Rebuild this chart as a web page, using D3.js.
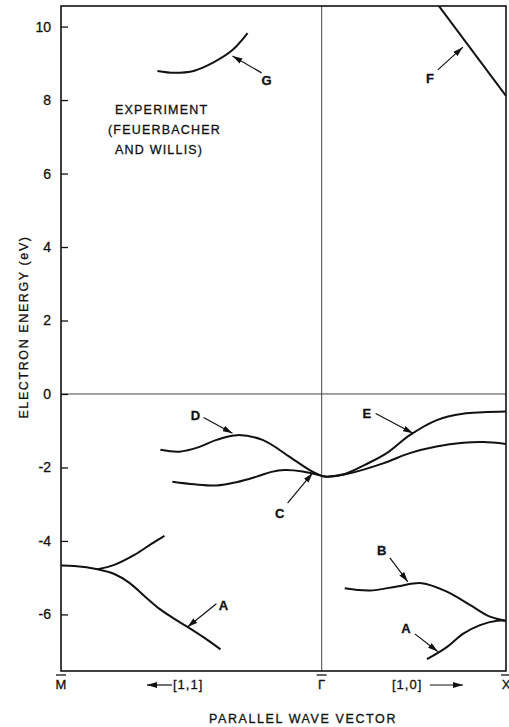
<!DOCTYPE html>
<html>
<head>
  <meta charset="utf-8">
  <title>Band structure</title>
  <style>
    body { margin: 0; background: #fff; }
    text { font-family: "Liberation Sans", Arial, sans-serif; fill: #111; stroke: #111; stroke-width: 0.3px; }
  </style>
</head>
<body>
  <div id="plot"></div>

  <script src="https://d3js.org/d3.v7.min.js"></script>
  <script>

    // k : parallel wave vector (Gamma = 0, X = 1, M = -sqrt2), E : electron energy (eV)
    let curveG      = [[-0.891, 8.79], [-0.799, 8.74], [-0.690, 8.80], [-0.592, 9.01], [-0.484, 9.36], [-0.402, 9.82]];
    let curveF      = [[0.630, 10.60], [1.000, 8.11]];
    let curveD      = [[-0.875, -1.52], [-0.772, -1.57], [-0.663, -1.44], [-0.571, -1.25], [-0.457, -1.12],
                       [-0.321, -1.25], [-0.174, -1.71], [-0.065, -2.07], [0.000, -2.23]];
    let curveC      = [[-0.810, -2.39], [-0.690, -2.46], [-0.571, -2.49], [-0.462, -2.40], [-0.353, -2.25],
                       [-0.272, -2.12], [-0.201, -2.07], [-0.103, -2.11], [0.000, -2.23]];
    let curveE      = [[0.000, -2.23], [0.033, -2.25], [0.125, -2.18], [0.234, -1.93], [0.353, -1.61],
                       [0.478, -1.12], [0.625, -0.71], [0.766, -0.54], [0.875, -0.50], [1.000, -0.48]];
    let curveE2     = [[0.000, -2.23], [0.033, -2.25], [0.152, -2.16], [0.333, -1.89], [0.478, -1.61],
                       [0.623, -1.43], [0.768, -1.33], [0.877, -1.31], [1.000, -1.36]];
    let curveA11    = [[-1.414, -4.67], [-1.342, -4.68], [-1.216, -4.77], [-1.125, -4.90], [-1.043, -5.14],
                       [-0.962, -5.50], [-0.880, -5.85], [-0.799, -6.12], [-0.728, -6.34], [-0.636, -6.64],
                       [-0.549, -6.95]];
    let curveUp11   = [[-1.216, -4.77], [-1.125, -4.65], [-1.016, -4.38], [-0.924, -4.08], [-0.853, -3.86]];
    let curveB      = [[0.125, -5.29], [0.261, -5.35], [0.408, -5.24], [0.543, -5.15], [0.679, -5.38],
                       [0.804, -5.74], [0.913, -6.06], [1.000, -6.17]];
    let curveA10    = [[0.571, -7.22], [0.679, -6.89], [0.766, -6.53], [0.859, -6.29], [0.951, -6.17], [1.000, -6.17]];

    let curves = [curveG, curveF, curveD, curveC, curveE, curveE2, curveA11, curveUp11, curveB, curveA10];

    // annotation arrows : label, label position, arrow start, arrow tip (k, E)
    let arrowLabels = ['G', 'F', 'D', 'E', 'C', 'B', 'A', 'A'];
    let arrowText   = [[-0.299, 8.54], [0.587, 8.60], [-0.685, -0.57], [0.245, -0.52],
                       [-0.228, -3.24], [0.326, -4.25], [0.457, -6.37], [-0.533, -5.74]];
    let arrowFrom   = [[-0.326, 8.74], [0.630, 8.82], [-0.641, -0.64], [0.293, -0.53],
                       [-0.185, -2.97], [0.370, -4.46], [0.505, -6.53], [-0.571, -5.71]];
    let arrowTo     = [[-0.484, 9.20], [0.766, 9.44], [-0.484, -1.07], [0.495, -1.07],
                       [-0.049, -2.15], [0.467, -5.11], [0.630, -7.01], [-0.728, -6.34]];

    let yTicks = [-6, -4, -2, 0, 2, 4, 6, 8, 10];
    let kPoints = [[-Math.SQRT2, 'M'], [0, 'Γ'], [1, 'X']];

    function translate(x, y) {
      return 'translate(' + x + ',' + y + ')';
    }

    let svgWidth = 509;
    let svgHeight = 727;
    let margin = {top: 6, right: 3, bottom: 56, left: 61};
    let width = svgWidth - margin.left - margin.right;
    let height = svgHeight - margin.top - margin.bottom;

    let svg = d3.select('#plot')
      .append('svg')
        .attr('width', svgWidth)
        .attr('height', svgHeight);

    let g = svg.append('g')
      .attr('transform', translate(margin.left, margin.top));

    let x = d3.scaleLinear().domain([-Math.SQRT2, 1]).range([0, width]);
    let y = d3.scaleLinear().domain([-7.54, 10.56]).range([height, 0]);

    //arrow head
    svg.append('defs')
      .append('marker')
        .attr('id', 'head')
        .attr('viewBox', '0 0 10 6')
        .attr('refX', 10)
        .attr('refY', 3)
        .attr('markerWidth', 10)
        .attr('markerHeight', 6)
        .attr('markerUnits', 'userSpaceOnUse')
        .attr('orient', 'auto')
      .append('path')
        .attr('d', 'M0,0 L10,3 L0,6 Z')
        .style('fill', '#111');

    svg.select('defs')
      .append('clipPath')
        .attr('id', 'clip')
      .append('rect')
        .attr('width', width)
        .attr('height', height);

    //zero line and Gamma line
    g.append('line')
      .attr('x1', 0).attr('x2', width)
      .attr('y1', y(0)).attr('y2', y(0))
      .style('stroke', '#444').style('stroke-width', 1);
    g.append('line')
      .attr('x1', x(0)).attr('x2', x(0))
      .attr('y1', 0).attr('y2', height)
      .style('stroke', '#444').style('stroke-width', 1);

    //Y-Axis
    let yAxis = d3.axisLeft(y)
      .tickValues(yTicks)
      .tickSize(-7)
      .tickPadding(10)
      .tickFormat(d => String(d));

    let ay = g.append('g').call(yAxis);
    ay.select('.domain').remove();
    ay.selectAll('line').style('stroke', '#111').style('stroke-width', 1.3);
    ay.selectAll('text')
      .style('font-size', '14px')
      .style('font-family', '"Liberation Sans", Arial, sans-serif')
      .style('fill', '#111');

    //frame
    g.append('rect')
      .attr('width', width)
      .attr('height', height)
      .style('fill', 'none')
      .style('stroke', '#111')
      .style('stroke-width', 1.6);

    //bands
    let line = d3.line()
      .x(d => x(d[0]))
      .y(d => y(d[1]))
      .curve(d3.curveCatmullRom.alpha(0.5));

    g.append('g')
      .attr('clip-path', 'url(#clip)')
      .selectAll('path')
      .data(curves)
      .enter()
        .append('path')
        .attr('d', line)
        .style('fill', 'none')
        .style('stroke', '#111')
        .style('stroke-width', 2);

    //annotation arrows
    g.selectAll('.arrow')
      .data(arrowLabels)
      .enter()
        .append('line')
        .attr('class', 'arrow')
        .attr('x1', (d, i) => x(arrowFrom[i][0]))
        .attr('y1', (d, i) => y(arrowFrom[i][1]))
        .attr('x2', (d, i) => x(arrowTo[i][0]))
        .attr('y2', (d, i) => y(arrowTo[i][1]))
        .attr('marker-end', 'url(#head)')
        .style('stroke', '#111')
        .style('stroke-width', 1.2);

    g.selectAll('.lab')
      .data(arrowLabels)
      .enter()
        .append('text')
        .attr('class', 'lab')
        .attr('x', (d, i) => x(arrowText[i][0]))
        .attr('y', (d, i) => y(arrowText[i][1]))
        .attr('dy', '0.36em')
        .style('text-anchor', 'middle')
        .style('font-size', '13px')
        .style('font-weight', 'bold')
        .text(d => d);

    //experiment note
    let note = g.append('g').style('font-size', '12.5px').style('letter-spacing', '1.2px');
    note.append('text').attr('x', 54).attr('y', 108).text('EXPERIMENT');
    note.append('text').attr('x', 47).attr('y', 128).text('(FEUERBACHER');
    note.append('text').attr('x', 54).attr('y', 148).text('AND WILLIS)');

    //symmetry points
    let kp = g.selectAll('.kp')
      .data(kPoints)
      .enter()
      .append('g')
        .attr('transform', d => translate(x(d[0]), height + 18));
    kp.append('text')
      .style('text-anchor', 'middle')
      .style('font-size', '13px')
      .text(d => d[1]);
    kp.append('line')
      .attr('x1', -5).attr('x2', 5)
      .attr('y1', -14).attr('y2', -14)
      .style('stroke', '#111').style('stroke-width', 1.3);

    //direction labels
    g.append('text')
      .attr('x', 112).attr('y', height + 18)
      .style('font-size', '13px')
      .style('letter-spacing', '1px')
      .text('[1,1]');
    g.append('line')
      .attr('x1', 111).attr('x2', 86)
      .attr('y1', height + 14).attr('y2', height + 14)
      .attr('marker-end', 'url(#head)')
      .style('stroke', '#111').style('stroke-width', 1.2);
    g.append('text')
      .attr('x', 331).attr('y', height + 18)
      .style('font-size', '13px')
      .style('letter-spacing', '1px')
      .text('[1,0]');
    g.append('line')
      .attr('x1', 369).attr('x2', 402)
      .attr('y1', height + 14).attr('y2', height + 14)
      .attr('marker-end', 'url(#head)')
      .style('stroke', '#111').style('stroke-width', 1.2);

    //X-Axis Label
    svg.append('text')
      .attr('x', 303)
      .attr('y', 723)
      .style('text-anchor', 'middle')
      .style('font-size', '12.5px')
      .style('letter-spacing', '1.6px')
      .text('PARALLEL WAVE VECTOR');

    //Y-Axis Label
    svg.append('text')
      .attr('transform', translate(28, 327) + ' rotate(-90)')
      .style('text-anchor', 'middle')
      .style('font-size', '12.5px')
      .style('letter-spacing', '1.6px')
      .text('ELECTRON ENERGY (eV)');

  </script>
</body>
</html>
